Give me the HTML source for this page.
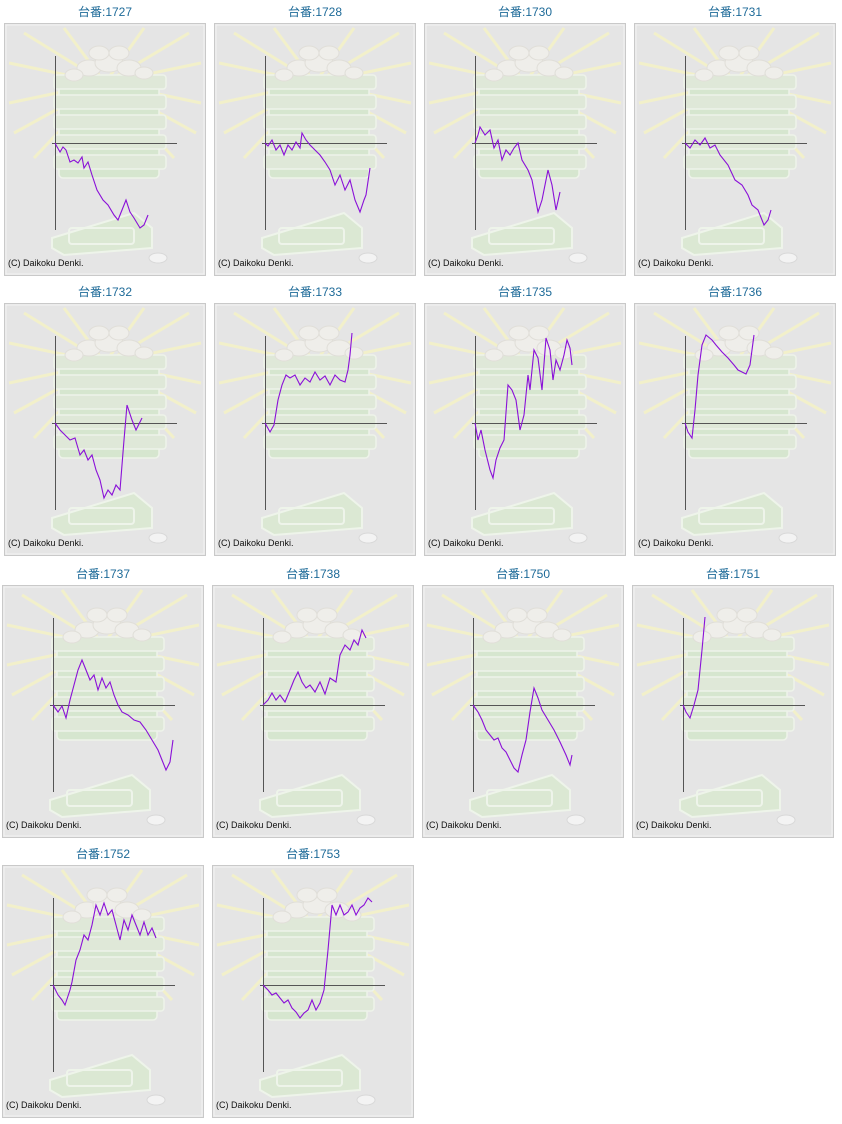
<!DOCTYPE html>
<html><head><meta charset="utf-8"><style>
body{margin:0;background:#fff;width:842px;height:1124px;overflow:hidden;font-family:"Liberation Sans","Noto Sans CJK JP",sans-serif}
.t{position:absolute;width:202px;text-align:center;font-size:12px;color:#1d6a98;line-height:14px}
svg{position:absolute;left:0;top:0}
</style></head><body>
<div class="t" style="left:4px;top:5px">台番:1727</div>
<div class="t" style="left:214px;top:5px">台番:1728</div>
<div class="t" style="left:424px;top:5px">台番:1730</div>
<div class="t" style="left:634px;top:5px">台番:1731</div>
<div class="t" style="left:4px;top:285px">台番:1732</div>
<div class="t" style="left:214px;top:285px">台番:1733</div>
<div class="t" style="left:424px;top:285px">台番:1735</div>
<div class="t" style="left:634px;top:285px">台番:1736</div>
<div class="t" style="left:2px;top:567px">台番:1737</div>
<div class="t" style="left:212px;top:567px">台番:1738</div>
<div class="t" style="left:422px;top:567px">台番:1750</div>
<div class="t" style="left:632px;top:567px">台番:1751</div>
<div class="t" style="left:2px;top:847px">台番:1752</div>
<div class="t" style="left:212px;top:847px">台番:1753</div>
<svg width="842" height="1124" viewBox="0 0 842 1124">
<defs>
<g id="p">
<rect x="0.5" y="0.5" width="201" height="252" fill="#e5e5e5" stroke="#c9c9c9"/>
<rect x="2" y="2" width="198" height="249" fill="none" stroke="#f4f4f4"/>
<g stroke="#f4f2c8" stroke-width="3" opacity="0.9">
<line x1="101" y1="60" x2="5" y2="40"/><line x1="101" y1="60" x2="20" y2="10"/>
<line x1="101" y1="60" x2="5" y2="80"/><line x1="101" y1="60" x2="10" y2="110"/>
<line x1="101" y1="60" x2="30" y2="135"/><line x1="101" y1="60" x2="197" y2="40"/>
<line x1="101" y1="60" x2="185" y2="10"/><line x1="101" y1="60" x2="197" y2="80"/>
<line x1="101" y1="60" x2="192" y2="110"/><line x1="101" y1="60" x2="170" y2="135"/>
<line x1="101" y1="60" x2="60" y2="5"/><line x1="101" y1="60" x2="140" y2="5"/>
</g>
<g fill="#dfe8d8" stroke="#eef3ea" stroke-width="1.5">
<rect x="55" y="55" width="100" height="100" rx="4" fill="#d6e6cf"/>
<rect x="50" y="52" width="112" height="14" rx="3"/>
<rect x="50" y="72" width="112" height="14" rx="3"/>
<rect x="50" y="92" width="112" height="14" rx="3"/>
<rect x="50" y="112" width="112" height="14" rx="3"/>
<rect x="50" y="132" width="112" height="14" rx="3"/>
</g>
<g fill="#efeeea" stroke="#e0ded8">
<ellipse cx="85" cy="45" rx="12" ry="8"/><ellipse cx="105" cy="40" rx="14" ry="9"/>
<ellipse cx="125" cy="45" rx="12" ry="8"/><ellipse cx="95" cy="30" rx="10" ry="7"/>
<ellipse cx="115" cy="30" rx="10" ry="7"/><ellipse cx="140" cy="50" rx="9" ry="6"/>
<ellipse cx="70" cy="52" rx="9" ry="6"/>
</g>
<g fill="#dbe8d3" stroke="#eef4ea" stroke-width="2">
<path d="M48 215 L130 190 L148 205 L148 225 L60 232 L48 225 Z"/>
<rect x="65" y="205" width="65" height="16" rx="3" fill="none"/>
</g>
<ellipse cx="154" cy="235" rx="9" ry="5" fill="#f3f3f3" stroke="#d8d8d8"/>
<text x="4" y="243" font-size="9" font-family="Liberation Sans, sans-serif" fill="#111">(C) Daikoku Denki.</text>
</g>
<g id="ax" stroke="#555" stroke-width="1">
<line x1="51.5" y1="33" x2="51.5" y2="207"/><line x1="48" y1="120.5" x2="173" y2="120.5"/>
</g>
</defs>
<use href="#p" x="4" y="23"/><use href="#ax" x="4" y="23"/>
<use href="#p" x="214" y="23"/><use href="#ax" x="214" y="23"/>
<use href="#p" x="424" y="23"/><use href="#ax" x="424" y="23"/>
<use href="#p" x="634" y="23"/><use href="#ax" x="634" y="23"/>
<use href="#p" x="4" y="303"/><use href="#ax" x="4" y="303"/>
<use href="#p" x="214" y="303"/><use href="#ax" x="214" y="303"/>
<use href="#p" x="424" y="303"/><use href="#ax" x="424" y="303"/>
<use href="#p" x="634" y="303"/><use href="#ax" x="634" y="303"/>
<use href="#p" x="2" y="585"/><use href="#ax" x="2" y="585"/>
<use href="#p" x="212" y="585"/><use href="#ax" x="212" y="585"/>
<use href="#p" x="422" y="585"/><use href="#ax" x="422" y="585"/>
<use href="#p" x="632" y="585"/><use href="#ax" x="632" y="585"/>
<use href="#p" x="2" y="865"/><use href="#ax" x="2" y="865"/>
<use href="#p" x="212" y="865"/><use href="#ax" x="212" y="865"/>
<g fill="none" stroke="#8a10d8" stroke-width="1.1">
<polyline points="55,143 56,145 60,152 63,147 66,150 70,162 74,160 78,163 82,157 84,168 88,162 92,175 97,190 103,200 108,205 114,215 118,220 122,210 126,200 130,212 134,218 140,228 144,225 148,215"/>
<polyline points="265,143 268,146 272,140 276,150 280,145 284,155 288,145 292,150 296,142 300,148 302,133 306,140 310,145 315,150 320,155 325,162 330,170 335,185 340,175 345,190 350,180 355,200 360,212 364,200 366,195 370,168"/>
<polyline points="475,143 478,135 480,127 485,135 490,130 494,148 498,140 502,160 506,150 510,155 514,148 518,143 522,160 528,170 532,180 538,212 542,200 548,170 552,185 556,210 560,192"/>
<polyline points="685,143 690,148 695,140 700,145 705,138 710,148 715,145 720,155 728,165 735,180 742,185 748,195 752,205 758,210 764,225 768,220 771,210"/>
<polyline points="55,423 60,430 65,435 70,440 75,438 80,455 84,450 88,460 92,455 96,470 100,480 104,498 108,490 112,495 116,485 120,490 124,440 127,405 132,420 136,430 142,418"/>
<polyline points="265,423 270,432 274,425 278,400 282,385 286,375 290,378 295,375 300,385 305,378 310,382 315,372 320,380 325,376 330,385 335,375 340,380 345,382 348,370 350,355 352,333"/>
<polyline points="475,423 478,440 481,430 485,450 490,470 493,478 496,460 500,448 504,440 508,385 512,390 516,400 520,430 524,415 528,375 530,390 534,350 538,358 542,390 546,338 550,350 553,380 556,360 560,370 564,355 567,340 570,348 572,365"/>
<polyline points="685,423 688,432 692,438 695,410 698,375 702,345 706,335 712,340 716,345 722,352 728,358 734,365 738,370 742,372 746,374 750,365 754,335"/>
<polyline points="53,705 58,712 62,706 66,718 70,700 74,685 78,670 82,660 86,670 90,680 94,675 98,690 102,678 106,688 110,682 114,695 118,705 122,712 128,715 134,720 140,722 146,730 152,740 158,750 162,760 166,770 170,762 173,740"/>
<polyline points="263,705 268,700 272,693 276,700 280,695 285,702 290,690 294,680 298,672 302,682 306,688 310,685 315,692 320,682 325,694 330,678 336,682 340,655 345,645 350,650 354,640 358,645 362,630 366,638"/>
<polyline points="473,705 478,712 482,720 486,730 490,735 494,740 498,738 502,748 506,752 510,760 514,768 518,772 522,755 526,740 530,712 534,688 538,698 542,710 548,720 554,730 560,742 566,755 570,765 572,755"/>
<polyline points="683,705 686,712 690,718 694,705 698,690 702,650 705,617"/>
<polyline points="53,985 58,995 62,1000 65,1005 70,990 72,982 76,960 80,950 84,935 88,940 92,925 96,905 100,915 104,903 108,915 112,910 116,925 120,940 124,920 128,930 132,915 136,925 140,935 144,922 148,935 152,928 156,938"/>
<polyline points="263,985 268,990 272,995 276,993 280,998 284,1003 288,1000 292,1008 296,1012 300,1018 304,1013 308,1010 312,1000 316,1010 320,1003 324,990 328,950 332,905 336,915 340,905 344,915 348,912 352,905 356,915 360,908 364,905 368,898 372,902"/>
</g>
</svg>
</body></html>
